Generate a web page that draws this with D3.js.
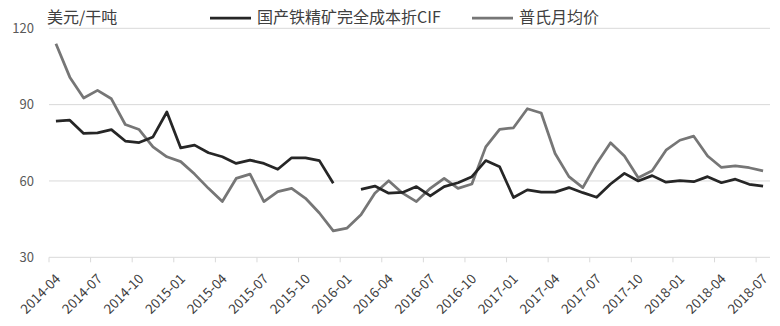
<!DOCTYPE html>
<html>
<head>
<meta charset="utf-8">
<script src="https://cdn.jsdelivr.net/npm/d3@7"></script>
<style>
  body { margin: 0; background: #fff; }
  svg text { font-family: "Noto Sans CJK SC", "Noto Sans", sans-serif; }
</style>
</head>
<body>
<div id="chart"></div>
<script>
// Months (categories)
const months = [
  '2014-04','2014-05','2014-06','2014-07','2014-08','2014-09','2014-10','2014-11','2014-12',
  '2015-01','2015-02','2015-03','2015-04','2015-05','2015-06','2015-07','2015-08','2015-09',
  '2015-10','2015-11','2015-12','2016-01','2016-02','2016-03','2016-04','2016-05','2016-06',
  '2016-07','2016-08','2016-09','2016-10','2016-11','2016-12','2017-01','2017-02','2017-03',
  '2017-04','2017-05','2017-06','2017-07','2017-08','2017-09','2017-10','2017-11','2017-12',
  '2018-01','2018-02','2018-03','2018-04','2018-05','2018-06','2018-07'
];

// 国产铁精矿完全成本折CIF (gap at 2016-01)
const costCIF = [
  83.5, 83.9, 78.7, 78.9, 80.2, 75.7, 75.1, 77.3, 87.1,
  73.0, 74.1, 71.1, 69.5, 66.9, 68.2, 66.9, 64.6, 69.1,
  69.1, 68.0, 59.1, null, 56.7, 58.0, 55.2, 55.5, 57.8,
  54.1, 57.8, 59.3, 61.7, 68.0, 65.6, 53.5, 56.5, 55.6,
  55.6, 57.4, 55.4, 53.6, 58.8, 63.0, 60.0, 62.1, 59.5,
  60.1, 59.7, 61.7, 59.3, 60.7, 58.7, 58.0
];

// 普氏月均价
const platts = [
  113.9, 100.8, 92.6, 95.6, 92.3, 82.2, 80.2, 73.4, 69.5,
  67.6, 62.7, 57.1, 51.9, 61.0, 62.7, 51.9, 55.8, 57.1,
  53.2, 47.4, 40.4, 41.5, 46.7, 55.2, 60.1, 55.2, 51.9,
  57.1, 61.0, 57.1, 58.8, 73.4, 80.3, 80.9, 88.4, 86.7,
  70.8, 61.7, 57.4, 66.9, 75.0, 69.8, 61.3, 64.0, 72.1,
  76.0, 77.6, 69.8, 65.3, 65.9, 65.2, 64.0
];

const yTicks = [30, 60, 90, 120];
const seriesNames = ['国产铁精矿完全成本折CIF', '普氏月均价'];
const unitLabel = '美元/干吨';

const W = 780, H = 326;
const plot = { left: 49, right: 770, top: 28.3, bottom: 257.3 };

const svg = d3.select('#chart')
  .append('svg')
    .attr('width', W)
    .attr('height', H);

// scales
const x = d3.scaleBand()
    .domain(months)
    .range([plot.left, plot.right])
    .padding(0);
const y = d3.scaleLinear()
    .domain([30, 120])
    .range([plot.bottom, plot.top]);

// gridlines
svg.append('g')
  .selectAll('line')
  .data(yTicks)
  .enter()
  .append('line')
    .attr('x1', plot.left)
    .attr('x2', plot.right)
    .attr('y1', d => y(d))
    .attr('y2', d => y(d))
    .attr('stroke', '#d9d9d9')
    .attr('stroke-width', 1);

// y labels
svg.append('g')
  .selectAll('text')
  .data(yTicks)
  .enter()
  .append('text')
    .attr('x', 34)
    .attr('y', d => y(d))
    .attr('dy', '0.35em')
    .attr('text-anchor', 'end')
    .attr('font-size', 13)
    .attr('fill', '#595959')
    .text(d => d);

// x ticks and labels every 3 months
const tickMonths = months.filter((m, i) => i % 3 === 0);
svg.append('g')
  .selectAll('line')
  .data(tickMonths)
  .enter()
  .append('line')
    .attr('x1', d => x(d))
    .attr('x2', d => x(d))
    .attr('y1', plot.bottom)
    .attr('y2', plot.bottom + 5)
    .attr('stroke', '#d9d9d9');

svg.append('g')
  .selectAll('text')
  .data(tickMonths)
  .enter()
  .append('text')
    .attr('transform', d => 'translate(' + (x(d) + 9) + ',' + (plot.bottom + 19) + ') rotate(-45)')
    .attr('dy', '0.35em')
    .attr('text-anchor', 'end')
    .attr('font-size', 13.5)
    .attr('fill', '#404040')
    .text(d => d);

// lines
const cx = i => x(months[i]) + x.bandwidth() / 2;
const line = d3.line()
    .defined(d => d != null)
    .x((d, i) => cx(i))
    .y(d => y(d));

svg.append('path')
    .datum(platts)
    .attr('fill', 'none')
    .attr('stroke', '#767676')
    .attr('stroke-width', 2.75)
    .attr('stroke-linejoin', 'round')
    .attr('d', line);

svg.append('path')
    .datum(costCIF)
    .attr('fill', 'none')
    .attr('stroke', '#262626')
    .attr('stroke-width', 2.75)
    .attr('stroke-linejoin', 'round')
    .attr('d', line);

// unit label
svg.append('text')
    .attr('x', 47)
    .attr('y', 17)
    .attr('dy', '0.35em')
    .attr('font-size', 16)
    .attr('fill', '#404040')
    .text(unitLabel);

// legend
const legend = [
  { name: seriesNames[0], color: '#262626', x0: 210 },
  { name: seriesNames[1], color: '#767676', x0: 472 }
];
const lg = svg.append('g')
  .selectAll('g')
  .data(legend)
  .enter()
  .append('g');
lg.append('line')
    .attr('x1', d => d.x0)
    .attr('x2', d => d.x0 + 41)
    .attr('y1', 18)
    .attr('y2', 18)
    .attr('stroke', d => d.color)
    .attr('stroke-width', 2.75);
lg.append('text')
    .attr('x', d => d.x0 + 47)
    .attr('y', 17)
    .attr('dy', '0.35em')
    .attr('font-size', 16)
    .attr('fill', '#404040')
    .text(d => d.name);
</script>
</body>
</html>
